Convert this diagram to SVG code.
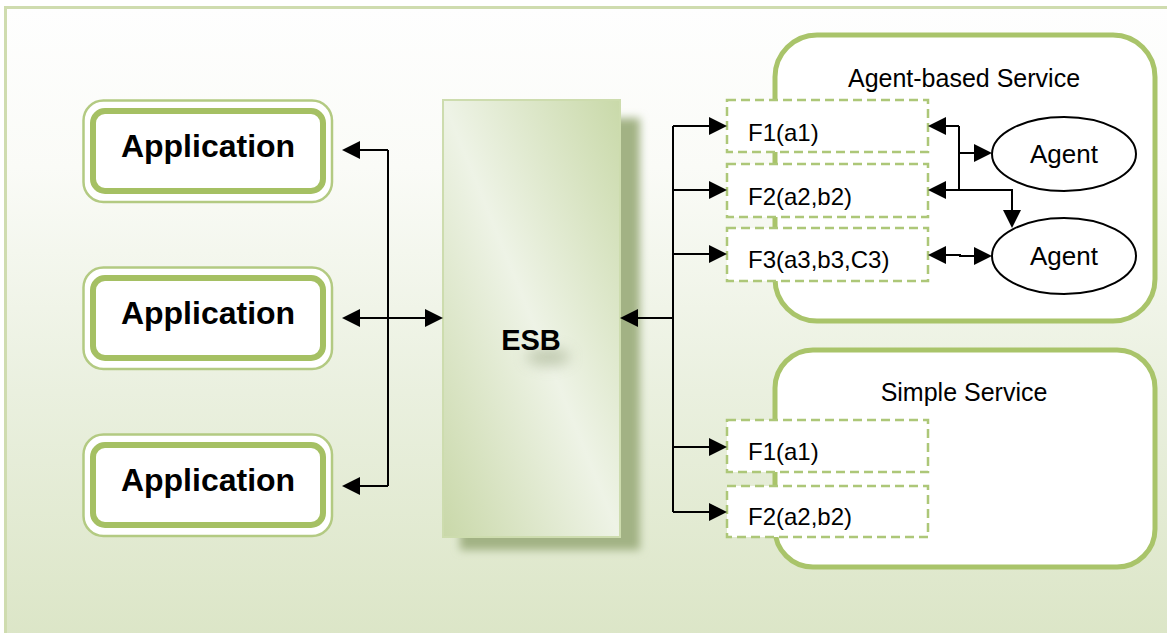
<svg xmlns="http://www.w3.org/2000/svg" width="1167" height="633" viewBox="0 0 1167 633">
  <defs>
    <linearGradient id="bg" x1="0" y1="0" x2="0" y2="1">
      <stop offset="0" stop-color="#fefefe"/>
      <stop offset="0.25" stop-color="#fafbf7"/>
      <stop offset="0.6" stop-color="#eaf0df"/>
      <stop offset="1" stop-color="#dbe5c6"/>
    </linearGradient>
    <linearGradient id="esbFill" x1="1" y1="0" x2="0" y2="1">
      <stop offset="0" stop-color="#c9d9a9"/>
      <stop offset="0.5" stop-color="#eef3e6"/>
      <stop offset="1" stop-color="#c9d8a9"/>
    </linearGradient>
    <filter id="soft" x="-20%" y="-20%" width="140%" height="140%">
      <feGaussianBlur stdDeviation="4"/>
    </filter>
    <filter id="blob" x="-100%" y="-100%" width="300%" height="300%">
      <feGaussianBlur stdDeviation="7"/>
    </filter>
    <marker id="arr" markerUnits="userSpaceOnUse" markerWidth="20" markerHeight="20" refX="8" refY="9" orient="auto-start-reverse">
      <path d="M0,0 L18,9 L0,18 z" fill="#000"/>
    </marker>
    <style>
      .app-outer { fill: #ffffff; stroke: #b3ca82; stroke-width: 2.5; }
      .app-inner { fill: #ffffff; stroke: #a5c063; stroke-width: 6; }
      .app-text { font-family: "Liberation Sans", Arial, sans-serif; font-weight: bold; font-size: 32px; fill: #000; text-anchor: middle; }
      .svc { fill: #ffffff; stroke: #a9c46a; stroke-width: 5; }
      .title { font-family: "Liberation Sans", Arial, sans-serif; font-size: 25px; fill: #000; text-anchor: middle; }
      .fbox { fill: #ffffff; stroke: #adc778; stroke-width: 2.5; stroke-dasharray: 9 5; }
      .ftext { font-family: "Liberation Sans", Arial, sans-serif; font-size: 24px; fill: #000; }
      .agent { fill: #ffffff; stroke: #000; stroke-width: 2; }
      .agent-text { font-family: "Liberation Sans", Arial, sans-serif; font-size: 26px; fill: #000; text-anchor: middle; }
      .wire { fill: none; stroke: #000; stroke-width: 2; }
      .wire-a { fill: none; stroke: #000; stroke-width: 2; marker-end: url(#arr); }
      .wire-b { fill: none; stroke: #000; stroke-width: 2; marker-start: url(#arr); marker-end: url(#arr); }
    </style>
  </defs>

  <!-- canvas and frame -->
  <rect x="0" y="0" width="1167" height="633" fill="#ffffff"/>
  <rect x="5.5" y="7.5" width="1175" height="640" fill="url(#bg)" stroke="#cfdcaf" stroke-width="3"/>

  <!-- applications -->
  <g id="app1">
    <rect class="app-outer" x="83.5" y="100.5" width="248.5" height="101.5" rx="20"/>
    <rect class="app-inner" x="93" y="111" width="230" height="80" rx="12"/>
    <text class="app-text" x="208" y="157">Application</text>
  </g>
  <g id="app2">
    <rect class="app-outer" x="83.5" y="267.5" width="248.5" height="101.5" rx="20"/>
    <rect class="app-inner" x="93" y="278" width="230" height="80" rx="12"/>
    <text class="app-text" x="208" y="324">Application</text>
  </g>
  <g id="app3">
    <rect class="app-outer" x="83.5" y="434.5" width="248.5" height="101.5" rx="20"/>
    <rect class="app-inner" x="93" y="445" width="230" height="80" rx="12"/>
    <text class="app-text" x="208" y="491">Application</text>
  </g>

  <!-- enterprise service bus -->
  <g id="esb">
    <rect x="460" y="118" width="180" height="432" fill="#a2b284" filter="url(#soft)"/>
    <rect x="443" y="100" width="177" height="437" fill="url(#esbFill)" stroke="#cddcae" stroke-width="2"/>
    <ellipse cx="548" cy="357" rx="22" ry="9" fill="#b5c0a2" opacity="0.8" filter="url(#blob)"/>
    <text x="531" y="350" font-family="Liberation Sans, Arial, sans-serif" font-weight="bold" font-size="29" text-anchor="middle" fill="#000">ESB</text>
  </g>

  <!-- agent-based service -->
  <g id="agent-service">
    <rect class="svc" x="775" y="35" width="380" height="286" rx="42"/>
    <text class="title" x="964" y="87">Agent-based Service</text>
  </g>

  <!-- simple service -->
  <g id="simple-service">
    <rect class="svc" x="775" y="350" width="380" height="217" rx="38"/>
    <text class="title" x="964" y="401">Simple Service</text>
  </g>

  <g id="as-f1">
    <rect class="fbox" x="727" y="100" width="201" height="52"/>
    <text class="ftext" x="748" y="141">F1(a1)</text>
  </g>
  <g id="as-f2">
    <rect class="fbox" x="727" y="164" width="201" height="53"/>
    <text class="ftext" x="748" y="205">F2(a2,b2)</text>
  </g>
  <g id="as-f3">
    <rect class="fbox" x="727" y="228" width="201" height="53"/>
    <text class="ftext" x="748" y="268">F3(a3,b3,C3)</text>
  </g>
  <g id="ss-f1">
    <rect class="fbox" x="727" y="420" width="201" height="52"/>
    <text class="ftext" x="748" y="460">F1(a1)</text>
  </g>
  <g id="ss-f2">
    <rect class="fbox" x="727" y="486" width="201" height="51"/>
    <text class="ftext" x="748" y="525">F2(a2,b2)</text>
  </g>

  <g id="agent1">
    <ellipse class="agent" cx="1064" cy="154" rx="72" ry="37"/>
    <text class="agent-text" x="1064" y="163">Agent</text>
  </g>
  <g id="agent2">
    <ellipse class="agent" cx="1064" cy="256" rx="72" ry="38"/>
    <text class="agent-text" x="1064" y="265">Agent</text>
  </g>

  <!-- connectors -->
  <g id="connectors">
    <!-- applications to bus -->
    <path class="wire" d="M388,150 V486"/>
    <path class="wire-a" d="M388,150 H352"/>
    <path class="wire-b" d="M352,318 H433"/>
    <path class="wire-a" d="M388,486 H352"/>

    <!-- bus to service functions -->
    <path class="wire" d="M673,126 V512"/>
    <path class="wire-a" d="M673,318 H630"/>
    <path class="wire-a" d="M673,126 H717"/>
    <path class="wire-a" d="M673,190 H717"/>
    <path class="wire-a" d="M673,254 H717"/>
    <path class="wire-a" d="M673,447 H717"/>
    <path class="wire-a" d="M673,512 H717"/>

    <!-- functions to agents -->
    <path class="wire" d="M959,126 V190"/>
    <path class="wire-a" d="M959,126 H938"/>
    <path class="wire-a" d="M959,190 H938"/>
    <path class="wire-a" d="M959,153 H982"/>
    <path class="wire-a" d="M959,190 H1012 V218"/>
    <path class="wire-b" d="M938,255 H960 V256 H982"/>
  </g>
</svg>
